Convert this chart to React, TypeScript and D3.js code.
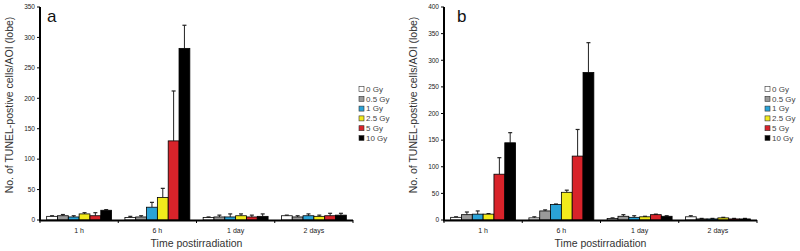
import React from 'react';
import * as d3 from 'd3';

const timepoints = ['1 h', '6 h', '1 day', '2 days'];
const doses = ['0 Gy', '0.5 Gy', '1 Gy', '2.5 Gy', '5 Gy', '10 Gy'];
const doseColors = ['#ffffff', '#9a9a9a', '#2aa3d8', '#f2ea1c', '#d8232a', '#000000'];

// panel a: mean and upper error value, per timepoint, per dose
const meanA = [
  [6, 7, 5, 10, 7, 16],
  [4, 5, 21, 37, 130, 282],
  [4, 5, 5, 7, 5, 6],
  [7, 5, 7, 6, 7, 8],
];
const errA = [
  [7, 9, 7, 12, 12, 17],
  [6, 7, 29, 52, 212, 320],
  [5, 8, 10, 10, 8, 10],
  [8, 7, 10, 8, 11, 11],
];
// panel b
const meanB = [
  [5, 10, 11, 11, 86, 145],
  [4, 17, 29, 52, 120, 277],
  [3, 7, 5, 6, 10, 7],
  [6, 2, 2, 4, 2, 2],
];
const errB = [
  [6, 15, 17, 12, 117, 164],
  [6, 19, 30, 56, 170, 333],
  [4, 10, 8, 7, 11, 8],
  [8, 3, 3, 5, 3, 3],
];

const yTicksA = [0, 50, 100, 150, 200, 250, 300, 350];
const yTicksB = [0, 50, 100, 150, 200, 250, 300, 350, 400];

const font = 'Arial, "Liberation Sans", sans-serif';

function Panel({ x0, letter, means, errs, yMax, ticks }) {
  const left = x0 + 40;
  const right = x0 + 353;
  const top = 7;
  const bottom = 220;

  const y = d3.scaleLinear().domain([0, yMax]).range([bottom, top]);
  const xg = d3.scaleBand().domain(timepoints).range([left, right]).paddingInner(0.17).paddingOuter(0.085);
  const xd = d3.scaleBand().domain(doses).range([0, xg.bandwidth()]);
  const step = (right - left) / timepoints.length;

  return (
    <g>
      {timepoints.map((t, gi) => (
        <g key={t} transform={`translate(${xg(t)},0)`}>
          {doses.map((d, di) => {
            const v = means[gi][di];
            const e = errs[gi][di];
            const bx = xd(d);
            const cx = bx + xd.bandwidth() / 2;
            return (
              <g key={d}>
                <line x1={cx} x2={cx} y1={y(v)} y2={y(e)} stroke="#222" strokeWidth={1} />
                <line x1={cx - 2} x2={cx + 2} y1={y(e)} y2={y(e)} stroke="#222" strokeWidth={1.2} />
                <rect x={bx} y={y(v)} width={xd.bandwidth()} height={bottom - y(v)}
                  fill={doseColors[di]} stroke="#000" strokeWidth={0.8} />
              </g>
            );
          })}
        </g>
      ))}

      {/* y axis */}
      <line x1={left} x2={left} y1={top} y2={bottom + 1} stroke="#000" strokeWidth={2} />
      {ticks.map((t) => (
        <g key={t}>
          <line x1={left - 3} x2={left} y1={y(t)} y2={y(t)} stroke="#000" strokeWidth={1} />
          <text x={left - 5} y={y(t)} dy="0.35em" textAnchor="end" fontSize={6.5} fontFamily={font} fill="#222">{t}</text>
        </g>
      ))}

      {/* x axis */}
      <line x1={left - 1} x2={right} y1={bottom + 0.5} y2={bottom + 0.5} stroke="#000" strokeWidth={2} />
      {d3.range(timepoints.length + 1).map((i) => (
        <line key={i} x1={left + i * step} x2={left + i * step} y1={bottom} y2={bottom + 3} stroke="#000" strokeWidth={1} />
      ))}
      {timepoints.map((t) => (
        <text key={t} x={xg(t) + xg.bandwidth() / 2} y={233} textAnchor="middle" fontSize={7} fontFamily={font} fill="#222">{t}</text>
      ))}
      <text x={(left + right) / 2} y={247} textAnchor="middle" fontSize={10.5} fontFamily={font} fill="#333">Time postirradiation</text>
      <text transform={`translate(${x0 + 13},${105}) rotate(-90)`} textAnchor="middle" fontSize={10.5} fontFamily={font} fill="#333">
        No. of TUNEL-postive cells/AOI (lobe)
      </text>
      <text x={left + (letter === 'a' ? 7 : 13)} y={22} fontSize={17} fontFamily={font} fill="#111">{letter}</text>

      {/* legend */}
      {doses.map((d, i) => (
        <g key={d} transform={`translate(${x0 + (letter === 'a' ? 359 : 361)},${89 + i * 9.8})`}>
          <rect x={0} y={-2.5} width={5} height={5} fill={doseColors[i]} stroke="#333" strokeWidth={0.6} />
          <text x={7} y={0} dy="0.35em" fontSize={8} fontFamily={font} fill="#444">{d}</text>
        </g>
      ))}
    </g>
  );
}

export default function App() {
  return (
    <svg width={800} height={251} style={{ position: 'absolute', left: 0, top: 0, background: '#fff' }}>
      <rect width={800} height={251} fill="#fff" />
      <Panel x0={0} letter="a" means={meanA} errs={errA} yMax={350} ticks={yTicksA} />
      <Panel x0={404} letter="b" means={meanB} errs={errB} yMax={400} ticks={yTicksB} />
    </svg>
  );
}
